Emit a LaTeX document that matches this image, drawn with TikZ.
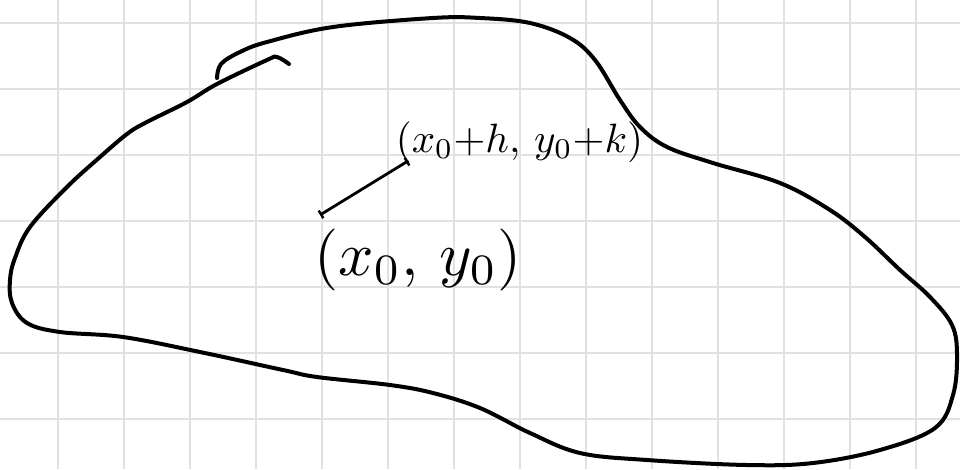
\documentclass[tikz,border=0pt]{standalone}
\usepackage{amsmath, amssymb}
\usepackage{tikz}
\usetikzlibrary{arrows.meta, positioning, calc}
\usepackage{xcolor}
\definecolor{gridgrey}{HTML}{E1E1E1}
\definecolor{ink}{HTML}{000000}

\begin{document}
\begin{tikzpicture}[
                x=1pt, y=-1pt,
                gridline/.style={draw=gridgrey, line width=2pt},
                blob/.style={draw=ink, line width=4pt, line cap=round, line join=round},
                seg/.style={{Bar[width=9pt,line width=2.4pt]}-{Bar[width=9pt,line width=2.4pt]}, line width=2.8pt, draw=ink},
                lbl/.style={inner sep=0pt, text=ink}
            ]
                \useasboundingbox[fill=white] (0,0) rectangle (960,469);
                % grid paper
                \foreach \i in {0,...,13}
                    \draw[gridline] ({58.3+66*\i},0) -- ++(0,469);
                \foreach \j in {0,...,6}
                    \draw[gridline] (0,{23.3+66*\j}) -- ++(960,0);

                % region
                \draw[blob] plot[smooth, tension=0.6] coordinates {
                    (217,78) (221,64) (240,52) (267,42) (333,27) (433,18) (480,18)
                    (530,23) (570,38) (595,60) (620,100) (640,127) (667,147)
                    (713,163) (780,183) (830,210) (865,237) (900,270) (930,297)
                    (952,325) (957,355) (953,395) (935,428) (880,450) (813,463)
                    (747,465) (647,460) (580,453) (530,433) (480,408) (433,393)
                    (390,385) (317,377) (283,370) (200,352) (123,337) (60,332)
                    (27,323) (12,303) (10,280) (15,258) (30,227) (67,187)
                    (100,157) (127,134) (145,123) (187,102) (217,84) (267,60)
                    (277,57) (289,64)
                };

                % the two points
                \coordinate (p0) at (320,215);
                \coordinate (p1) at (408,161);
                \draw[seg] (p0) -- (p1);

                \node[lbl, anchor=west, scale=4.1] (tipLabel) at (395,142) {$(x_0{+}h,\,y_0{+}k)$};
                \node[lbl, anchor=west, scale=6.2] (baseLabel) at (313,260) {$(x_0,\,y_0)$};
            \end{tikzpicture}
\end{document}
